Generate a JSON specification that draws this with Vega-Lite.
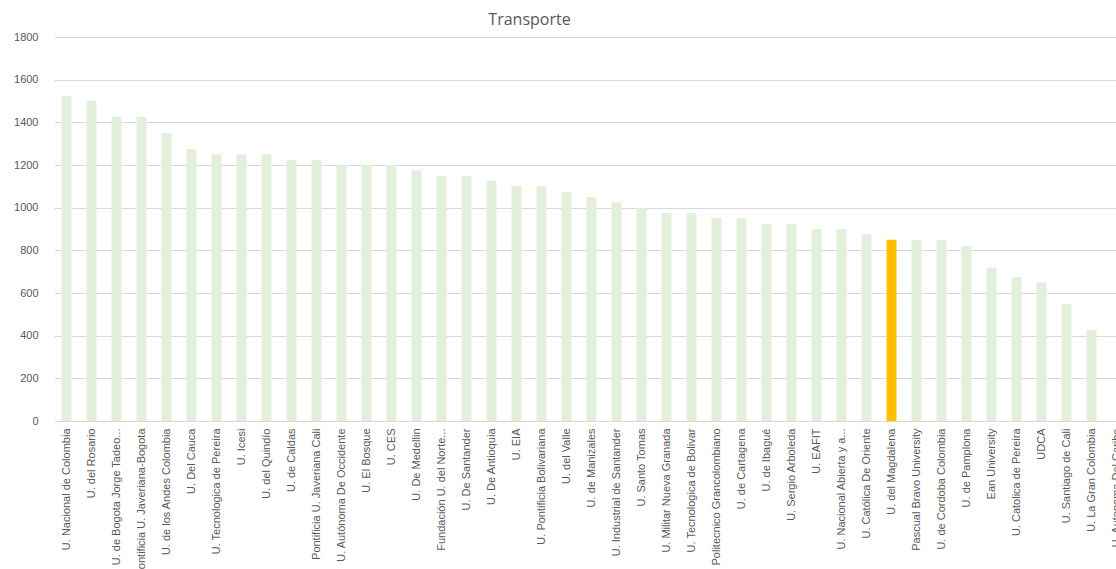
{
  "$schema": "https://vega.github.io/schema/vega-lite/v6.json",
  "autosize": {"type": "none"},
  "padding": {"left": 54, "top": 37, "right": 0, "bottom": 148},
  "width": 1075,
  "height": 384,
  "background": "white",
  "title": {
    "text": "Transporte",
    "fontSize": 16,
    "fontWeight": "normal",
    "font": "Open Sans",
    "color": "#595959",
    "anchor": "middle",
    "dx": -62,
    "offset": 3
  },
  "data": {
    "values": [
      {"u": "U. Nacional de Colombia", "v": 1525},
      {"u": "U. del Rosario", "v": 1500},
      {"u": "U. de Bogota Jorge Tadeo...", "v": 1425},
      {"u": "Pontificia U. Javeriana-Bogota", "v": 1425},
      {"u": "U. de los Andes Colombia", "v": 1350},
      {"u": "U. Del Cauca", "v": 1275},
      {"u": "U. Tecnologica de Pereira", "v": 1250},
      {"u": "U. Icesi", "v": 1250},
      {"u": "U. del Quindío", "v": 1250},
      {"u": "U. de Caldas", "v": 1225},
      {"u": "Pontificia U. Javeriana Cali", "v": 1225},
      {"u": "U. Autónoma De Occidente", "v": 1200},
      {"u": "U. El Bosque", "v": 1200},
      {"u": "U. CES", "v": 1200},
      {"u": "U. De Medellin", "v": 1175},
      {"u": "Fundación U. del Norte...", "v": 1150},
      {"u": "U. De Santander", "v": 1150},
      {"u": "U. De Antioquia", "v": 1125},
      {"u": "U. EIA", "v": 1100},
      {"u": "U. Pontificia Bolivariana", "v": 1100},
      {"u": "U. del Valle", "v": 1075},
      {"u": "U. de Manizales", "v": 1050},
      {"u": "U. Industrial de  Santander", "v": 1025},
      {"u": "U. Santo Tomas", "v": 1000},
      {"u": "U. Militar Nueva Granada", "v": 975},
      {"u": "U. Tecnologica de  Bolivar", "v": 975},
      {"u": "Politecnico Grancolombiano", "v": 950},
      {"u": "U. de Cartagena", "v": 950},
      {"u": "U. de Ibagué", "v": 925},
      {"u": "U. Sergio Arboleda", "v": 925},
      {"u": "U. EAFIT", "v": 900},
      {"u": "U. Nacional Abierta y a...", "v": 900},
      {"u": "U. Católica De Oriente", "v": 875},
      {"u": "U. del Magdalena", "v": 850},
      {"u": "Pascual Bravo University", "v": 850},
      {"u": "U. de Cordoba  Colombia", "v": 850},
      {"u": "U. de Pamplona", "v": 820},
      {"u": "Ean University", "v": 720},
      {"u": "U. Catolica de Pereira", "v": 675},
      {"u": "UDCA", "v": 650},
      {"u": "U. Santiago de  Cali", "v": 550},
      {"u": "U. La Gran Colombia", "v": 425},
      {"u": "U. Autonoma Del Caribe", "v": null}
    ]
  },
  "mark": {"type": "bar"},
  "encoding": {
    "x": {
      "field": "u",
      "type": "nominal",
      "sort": null,
      "scale": {
        "paddingInner": 0.6,
        "paddingOuter": 0.3,
        "domain": ["U. Nacional de Colombia", "U. del Rosario", "U. de Bogota Jorge Tadeo...", "Pontificia U. Javeriana-Bogota", "U. de los Andes Colombia", "U. Del Cauca", "U. Tecnologica de Pereira", "U. Icesi", "U. del Quindío", "U. de Caldas", "Pontificia U. Javeriana Cali", "U. Autónoma De Occidente", "U. El Bosque", "U. CES", "U. De Medellin", "Fundación U. del Norte...", "U. De Santander", "U. De Antioquia", "U. EIA", "U. Pontificia Bolivariana", "U. del Valle", "U. de Manizales", "U. Industrial de  Santander", "U. Santo Tomas", "U. Militar Nueva Granada", "U. Tecnologica de  Bolivar", "Politecnico Grancolombiano", "U. de Cartagena", "U. de Ibagué", "U. Sergio Arboleda", "U. EAFIT", "U. Nacional Abierta y a...", "U. Católica De Oriente", "U. del Magdalena", "Pascual Bravo University", "U. de Cordoba  Colombia", "U. de Pamplona", "Ean University", "U. Catolica de Pereira", "UDCA", "U. Santiago de  Cali", "U. La Gran Colombia", "U. Autonoma Del Caribe"]
      },
      "axis": {
        "title": null,
        "labelAngle": -90,
        "labelAlign": "right",
        "labelBaseline": "middle",
        "labelFont": "Liberation Sans",
        "labelFontSize": 11,
        "labelColor": "#595959",
        "labelPadding": 7,
        "labelLimit": 300,
        "labelOverlap": false,
        "ticks": false,
        "domain": false,
        "grid": false
      }
    },
    "y": {
      "field": "v",
      "type": "quantitative",
      "scale": {"domain": [0, 1800], "nice": false},
      "axis": {
        "title": null,
        "values": [0, 200, 400, 600, 800, 1000, 1200, 1400, 1600, 1800],
        "format": "d",
        "labelFont": "Liberation Sans",
        "labelFontSize": 11,
        "labelColor": "#595959",
        "labelPadding": 16,
        "ticks": false,
        "domain": false,
        "grid": true,
        "gridColor": "#d9d9d9",
        "gridWidth": 1
      }
    },
    "color": {
      "condition": {"test": "datum.u === 'U. del Magdalena'", "value": "#FFC000"},
      "value": "#E2EFDA"
    }
  },
  "config": {
    "view": {"stroke": null}
  }
}
